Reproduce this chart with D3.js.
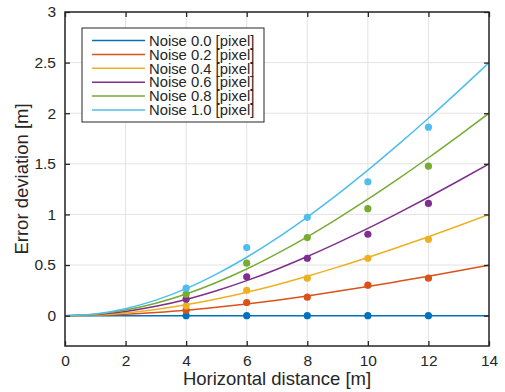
<!DOCTYPE html>
<html><head><meta charset="utf-8">
<script src="https://cdn.jsdelivr.net/npm/d3@7"></script>
<style>
body{margin:0;background:#fff;}
text{font-family:"Liberation Sans",Arial,Helvetica,sans-serif;fill:#262626;}
</style></head><body>
<svg id="chart" width="505" height="392"></svg>
<script>
// ---- data ----
const seriesNames = ["Noise 0.0 [pixel]","Noise 0.2 [pixel]","Noise 0.4 [pixel]","Noise 0.6 [pixel]","Noise 0.8 [pixel]","Noise 1.0 [pixel]"];
const colors = ["#0072BD","#D95319","#EDB120","#7E2F8E","#77AC30","#4DBEEE"];
const curveX = [0,1,2,3,4,5,6,7,8,9,10,11,12,13,14];
const curve00 = [0,0,0,0,0,0,0,0,0,0,0,0,0,0,0];
const curve02 = [0,0.003,0.014,0.031,0.053,0.082,0.115,0.153,0.195,0.240,0.287,0.338,0.390,0.444,0.500];
const curve04 = [0,0.007,0.027,0.061,0.107,0.164,0.231,0.306,0.389,0.479,0.575,0.675,0.780,0.888,1.000];
const curve06 = [0,0.010,0.041,0.092,0.160,0.246,0.346,0.459,0.584,0.719,0.862,1.013,1.170,1.333,1.500];
const curve08 = [0,0.014,0.055,0.122,0.214,0.328,0.461,0.613,0.779,0.959,1.150,1.351,1.560,1.777,2.000];
const curve10 = [0,0.017,0.069,0.153,0.267,0.410,0.577,0.766,0.974,1.198,1.437,1.689,1.950,2.221,2.500];
const pointX = [4,6,8,10,12];
const points00 = [0,0,0,0,0];
const points02 = [0.054,0.130,0.182,0.301,0.370];
const points04 = [0.097,0.251,0.370,0.567,0.754];
const points06 = [0.163,0.383,0.567,0.804,1.109];
const points08 = [0.212,0.518,0.771,1.057,1.477];
const points10 = [0.271,0.672,0.971,1.323,1.862];
const xTicks = [0,2,4,6,8,10,12,14];
const yTicks = [0,0.5,1,1.5,2,2.5,3];
const xLabel = "Horizontal distance [m]";
const yLabel = "Error deviation [m]";

const curves = [curve00,curve02,curve04,curve06,curve08,curve10];
const pointsets = [points00,points02,points04,points06,points08,points10];

// ---- layout ----
const L=65, R=489, T=12, B=346;
const svg = d3.select("#chart");
const x = d3.scaleLinear().domain([0,14]).range([L,R]);
const y = d3.scaleLinear().domain([-0.3,3]).range([B,T]);

// grid
const grid = svg.append("g");
grid.selectAll(".vg").data(xTicks).join("line")
  .attr("x1",d=>x(d)).attr("x2",d=>x(d)).attr("y1",T).attr("y2",B)
  .attr("stroke","#e3e3e3").attr("stroke-width",1);
grid.selectAll(".hg").data(yTicks).join("line")
  .attr("y1",d=>y(d)).attr("y2",d=>y(d)).attr("x1",L).attr("x2",R)
  .attr("stroke","#e3e3e3").attr("stroke-width",1);

// clip
svg.append("clipPath").attr("id","clip").append("rect")
  .attr("x",L).attr("y",T).attr("width",R-L).attr("height",B-T);

const plot = svg.append("g").attr("clip-path","url(#clip)");
const line = d3.line().x(d=>x(d[0])).y(d=>y(d[1])).curve(d3.curveMonotoneX);
curves.forEach((c,i)=>{
  plot.append("path").datum(curveX.map((xv,j)=>[xv,c[j]]))
    .attr("d",line).attr("fill","none").attr("stroke",colors[i]).attr("stroke-width",1.5);
});
pointsets.forEach((p,i)=>{
  plot.selectAll(null).data(pointX.map((xv,j)=>[xv,p[j]])).join("circle")
    .attr("cx",d=>x(d[0])).attr("cy",d=>y(d[1])).attr("r",3.6).attr("fill",colors[i]);
});

// axes (MATLAB style box with inward ticks)
const axisColor="#262626";
const xAxisB = d3.axisBottom(x).tickValues(xTicks).tickSize(-5).tickPadding(9).tickFormat(d3.format("d"));
const xAxisT = d3.axisTop(x).tickValues(xTicks).tickSize(-5).tickFormat("");
const yAxisL = d3.axisLeft(y).tickValues(yTicks).tickSize(-5).tickPadding(9).tickFormat(d=>String(d));
const yAxisR = d3.axisRight(y).tickValues(yTicks).tickSize(-5).tickFormat("");
function style(g){
  g.select(".domain").remove();
  g.selectAll(".tick line").attr("stroke",axisColor).attr("stroke-width",1.3);
  g.selectAll(".tick text").attr("fill",axisColor).style("font-size","15.5px")
    .style("font-family","'Liberation Sans',Arial,sans-serif");
}
svg.append("g").attr("transform",`translate(0,${B})`).call(xAxisB).call(style);
svg.append("g").attr("transform",`translate(0,${T})`).call(xAxisT).call(style);
svg.append("g").attr("transform",`translate(${L},0)`).call(yAxisL).call(style);
svg.append("g").attr("transform",`translate(${R},0)`).call(yAxisR).call(style);
svg.append("rect").attr("x",L).attr("y",T).attr("width",R-L).attr("height",B-T)
  .attr("fill","none").attr("stroke",axisColor).attr("stroke-width",1.5);

// labels
svg.append("text").attr("x",(L+R)/2).attr("y",385).attr("text-anchor","middle")
  .style("font-size","18.5px").text(xLabel);
svg.append("text").attr("transform",`translate(28,${(T+B)/2}) rotate(-90)`).attr("text-anchor","middle")
  .style("font-size","18.5px").text(yLabel);

// legend
const lg = svg.append("g");
lg.append("rect").attr("x",82).attr("y",28).attr("width",182).attr("height",94)
  .attr("fill","#fff").attr("stroke",axisColor).attr("stroke-width",1);
seriesNames.forEach((n,i)=>{
  const cy = 40.5 + i*13.9;
  lg.append("line").attr("x1",92).attr("x2",145).attr("y1",cy).attr("y2",cy)
    .attr("stroke",colors[i]).attr("stroke-width",1.5);
  lg.append("text").attr("x",149).attr("y",cy+5.2).style("font-size","14.8px").text(n);
});
</script>
</body></html>
